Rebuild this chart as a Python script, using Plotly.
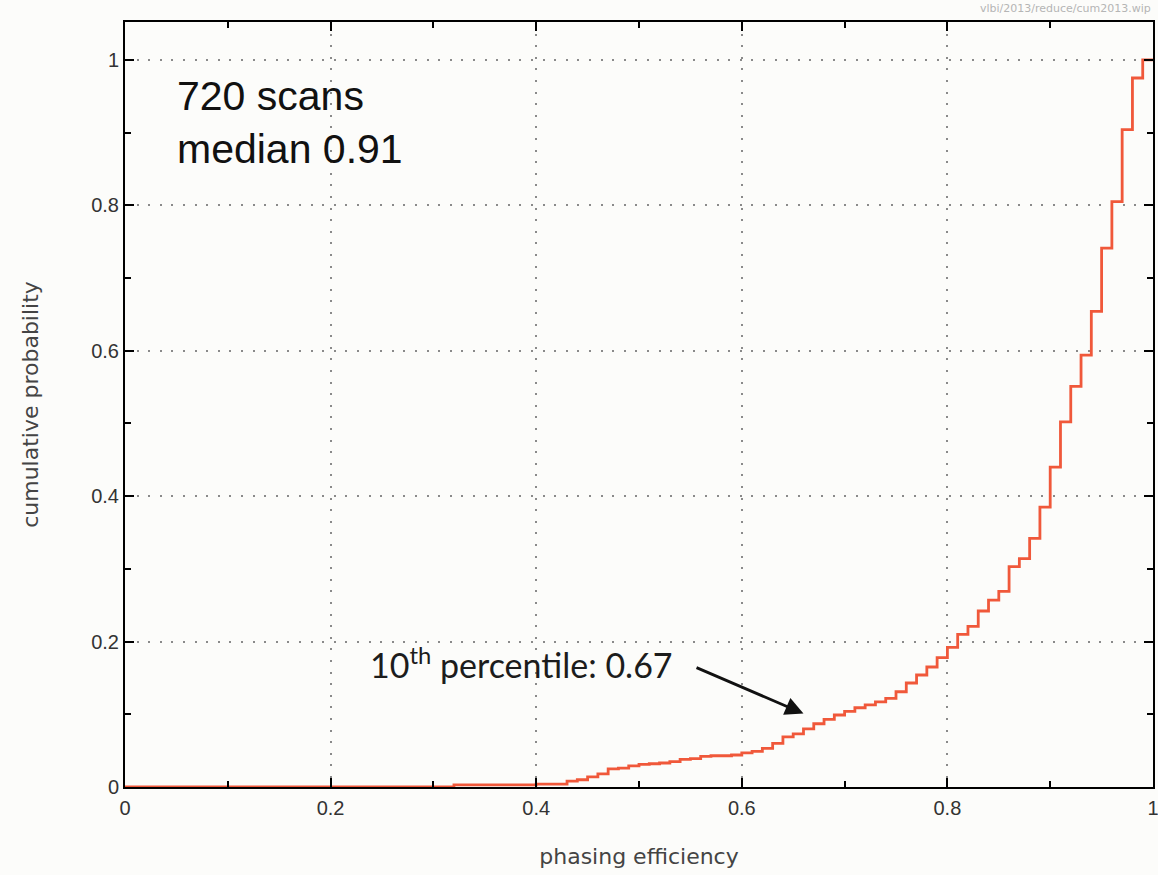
import plotly.graph_objects as go

# Lower edges of 0.01-wide bins and the cumulative probability level on each bin
bin_left = [0.00, 0.32, 0.40, 0.43, 0.44, 0.45, 0.46, 0.47, 0.48, 0.49,
            0.50, 0.51, 0.52, 0.53, 0.54, 0.55, 0.56, 0.57, 0.58, 0.59,
            0.60, 0.61, 0.62, 0.63, 0.64, 0.65, 0.66, 0.67, 0.68, 0.69,
            0.70, 0.71, 0.72, 0.73, 0.74, 0.75, 0.76, 0.77, 0.78, 0.79,
            0.80, 0.81, 0.82, 0.83, 0.84, 0.85, 0.86, 0.87, 0.88, 0.89,
            0.90, 0.91, 0.92, 0.93, 0.94, 0.95, 0.96, 0.97, 0.98, 0.99]
cum_prob = [0.000, 0.003, 0.004, 0.008, 0.010, 0.014, 0.018, 0.025, 0.026, 0.029,
            0.031, 0.032, 0.033, 0.035, 0.038, 0.039, 0.042, 0.043, 0.043, 0.044,
            0.047, 0.049, 0.053, 0.060, 0.069, 0.073, 0.080, 0.087, 0.093, 0.099,
            0.104, 0.109, 0.113, 0.117, 0.122, 0.131, 0.143, 0.154, 0.165, 0.178,
            0.192, 0.210, 0.221, 0.242, 0.257, 0.269, 0.303, 0.314, 0.342, 0.385,
            0.440, 0.502, 0.551, 0.594, 0.654, 0.741, 0.805, 0.904, 0.975, 1.000]
x_end = 1.0

major_ticks = [0, 0.2, 0.4, 0.6, 0.8, 1]
tick_text = ["0", "0.2", "0.4", "0.6", "0.8", "1"]

step_x = bin_left + [x_end]
step_y = cum_prob + [cum_prob[-1]]

fig = go.Figure()
fig.add_trace(go.Scatter(
    x=step_x, y=step_y, mode="lines", line_shape="hv",
    line=dict(color="#f0583a", width=2.8), showlegend=False, hoverinfo="skip"))

axis_common = dict(
    showline=True, linecolor="black", linewidth=2, mirror="ticks",
    ticks="inside", ticklen=9, tickwidth=2, tickcolor="black",
    showgrid=True, gridcolor="#8a8a8a", gridwidth=2, griddash="2px,9.6px",
    zeroline=False, automargin=False, ticklabeloverflow="allow",
    tickvals=major_ticks, ticktext=tick_text,
    tickfont=dict(family="Liberation Sans, Arial", size=20, color="#333333"),
    minor=dict(ticks="inside", ticklen=6, tickwidth=2, tickcolor="black",
               dtick=0.1, showgrid=False),
)

fig.update_xaxes(range=[0, 1], ticklabelstandoff=2,
                 title=dict(text="phasing efficiency", standoff=31,
                            font=dict(family="DejaVu Sans", size=22, color="#444444")),
                 **axis_common)
fig.update_yaxes(range=[0, 1.052], ticklabelstandoff=0,
                 title=dict(text="cumulative probability", standoff=46,
                            font=dict(family="DejaVu Sans", size=22, color="#444444")),
                 **axis_common)

fig.add_annotation(
    x=0.049, y=0.985, xref="x", yref="y", xanchor="left", yanchor="top",
    text="720 scans<br>median 0.91", showarrow=False, align="left",
    font=dict(family="Liberation Sans, Arial", size=41, color="#111111"))

fig.add_annotation(
    x=0.386, y=0.171, xref="x", yref="y", xanchor="center", yanchor="middle",
    text="10<sup>th</sup> percentile: 0.67", showarrow=False,
    font=dict(family="Lato, Open Sans", size=34, color="#1c1c1c"))

fig.add_annotation(
    x=0.660, y=0.101, ax=0.5545, ay=0.165, xref="x", yref="y", axref="x", ayref="y",
    text="", showarrow=True, arrowhead=2, arrowsize=1.3, arrowwidth=2.8,
    arrowcolor="#111111")

fig.add_annotation(
    x=1.0, y=1.0, xref="paper", yref="paper", xanchor="right", yanchor="bottom",
    yshift=5, text="vlbi/2013/reduce/cum2013.wip", showarrow=False,
    font=dict(family="DejaVu Sans", size=11, color="#b5b5b5"))

fig.update_layout(
    width=1158, height=875,
    margin=dict(l=125, r=5, t=22, b=88, pad=0, autoexpand=False),
    paper_bgcolor="#fcfcfa", plot_bgcolor="#fcfcfa",
)

fig.write_html("out.html")
